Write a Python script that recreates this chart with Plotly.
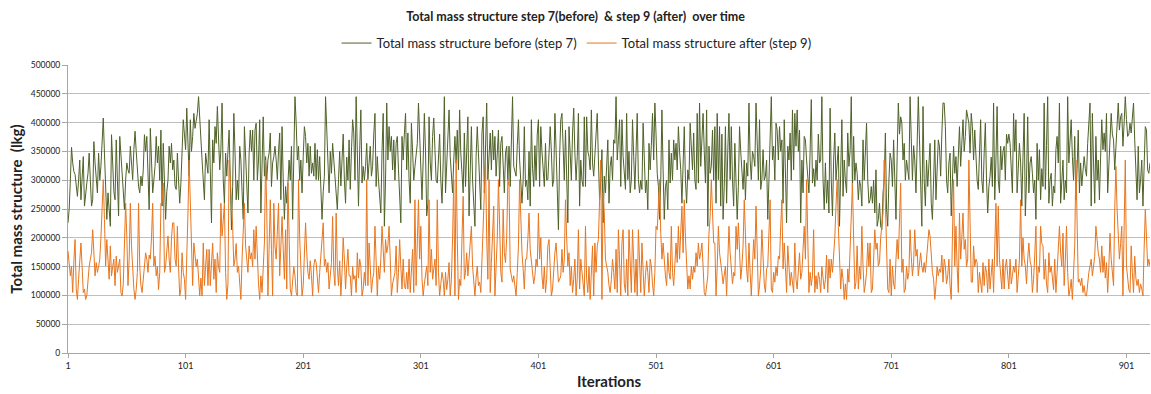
import plotly.graph_objects as go

# Total mass structure before (step 7), in thousands of kg, one value per iteration
before_k = [
    226,250,300,357,330,315,310,290,272,300, 335,266,300,341,255,280,295,312,347,300,
    255,266,367,330,307,278,347,300,324,370, 408,347,290,232,278,250,220,379,307,280,
    266,370,300,238,376,341,300,284,249,300, 330,318,312,359,330,301,353,385,350,307,
    289,278,307,290,318,379,350,376,300,249, 390,318,278,300,324,376,330,359,300,387,
    255,364,300,232,280,300,359,330,364,318, 335,290,284,347,300,260,295,350,405,380,
    353,425,380,307,405,350,376,416,390,401, 416,445,400,376,335,300,266,347,330,312,
    405,300,226,370,330,393,364,428,380,318, 353,434,300,260,347,307,350,387,300,214,
    289,416,350,266,300,266,359,335,280,232, 393,335,280,243,347,387,350,387,300,387,
    399,300,335,405,243,330,410,307,341,300, 335,347,382,289,330,341,359,335,301,350,
    382,266,393,300,232,289,260,295,335,300, 359,232,370,445,400,335,359,300,335,278,
    341,393,376,330,364,307,359,312,330,307, 364,301,353,300,341,266,232,280,307,445,
    393,318,278,350,312,364,335,307,280,249, 301,350,290,330,380,300,260,340,300,370,
    284,350,405,382,300,445,318,255,350,422, 295,324,300,324,364,301,330,359,307,324,
    380,416,289,341,300,266,243,350,416,220, 300,434,335,393,350,376,318,370,300,364,
    376,318,260,226,376,335,380,416,318,382, 300,260,399,335,300,324,353,364,434,380,
    335,266,335,416,350,238,260,410,330,300, 376,408,353,300,295,335,380,300,260,330,
    445,278,330,364,422,341,300,278,335,376, 330,387,318,422,347,300,278,382,289,350,
    410,238,312,393,300,243,220,341,393,347, 300,249,382,410,278,350,434,301,335,382,
    318,387,335,376,307,350,387,289,364,376, 330,278,347,359,300,359,289,370,445,324,
    312,307,360,405,335,284,260,300,393,289, 300,266,350,255,405,320,289,360,300,380,
    405,289,393,350,324,289,364,300,301,341, 393,350,289,301,416,353,300,214,341,405,
    416,353,300,387,289,226,393,335,300,382, 425,347,300,341,416,255,335,300,289,410,
    289,410,350,341,318,422,330,307,350,387, 416,335,266,300,353,226,307,278,330,370,
    260,324,341,300,370,364,445,335,370,405, 289,405,341,300,284,416,301,350,278,300,
    405,341,284,350,416,301,278,300,284,399, 312,278,300,249,364,318,360,416,335,434,
    380,312,289,232,300,422,318,232,289,300, 249,370,295,347,300,370,335,364,318,393,
    350,318,260,312,393,300,260,318,301,399, 341,318,382,300,284,416,295,434,324,359,
    416,350,295,422,220,359,312,324,387,300, 393,260,416,301,393,255,380,232,289,393,
    260,350,416,301,393,300,255,364,300,232, 289,393,350,307,284,335,266,330,307,434,
    335,301,350,341,324,434,347,300,405,284, 301,353,300,307,335,232,300,364,445,335,
    359,300,399,387,335,393,350,370,260,405, 300,226,359,335,382,300,422,318,416,359,
    422,350,387,226,335,278,376,370,335,307, 278,350,440,295,320,289,335,300,380,330,
    335,445,300,249,330,260,300,243,425,300, 238,335,382,300,335,359,220,300,405,272,
    335,300,278,382,324,350,445,284,376,300, 330,312,266,300,289,255,370,300,370,399,
    300,260,266,289,260,300,243,318,220,232, 260,220,214,278,300,382,249,220,300,347,
    335,289,370,300,232,341,434,380,410,399, 335,364,300,335,312,301,445,350,300,360,
    335,278,350,445,370,300,220,428,300,255, 335,289,330,364,260,232,300,370,266,340,
    370,359,307,380,434,434,393,300,278,330, 347,238,300,359,312,341,289,350,393,324,
    370,405,350,376,422,405,399,347,416,393, 335,387,335,300,284,335,405,300,278,347,
    399,300,243,289,307,340,289,434,266,335, 428,300,278,359,318,350,359,300,380,364,
    380,364,330,278,416,350,405,278,320,364, 330,255,340,416,238,300,410,278,330,341,
    312,278,300,232,364,300,353,266,320,289, 434,284,360,445,260,300,312,255,290,278,
    353,376,330,434,260,300,335,266,300,278, 445,330,360,405,341,300,376,266,320,387,
    278,330,290,312,341,320,307,364,400,434, 255,416,330,260,376,300,335,266,340,405,
    353,382,350,416,278,330,387,416,380,370, 318,364,400,434,387,410,416,359,400,445,
    405,376,380,399,382,410,434,370,300,266, 359,278,300,335,255,320,393,387,318,312,
    330,
]

# Total mass structure after (step 9), in thousands of kg, one value per iteration
after_k = [
    177,150,134,151,105,160,197,111,93,128, 163,191,150,105,111,93,100,128,150,163,
    174,214,180,134,157,140,150,163,200,250, 301,232,151,197,160,128,186,134,150,163,
    117,168,140,151,163,105,99,120,180,260, 203,117,163,260,186,140,111,93,110,140,
    260,151,117,105,130,151,174,163,140,170, 163,200,260,151,168,134,150,110,140,260,
    260,295,140,151,180,203,163,140,200,226, 226,163,151,220,150,99,111,174,140,128,
    93,151,243,335,249,180,117,191,163,150, 163,117,99,130,99,191,117,150,180,117,
    180,117,150,191,128,163,105,174,150,140, 260,203,230,260,140,93,120,335,300,260,
    220,151,163,190,140,151,120,93,163,200, 260,186,163,140,186,163,174,150,214,163,
    220,163,120,93,134,105,150,191,335,250, 99,163,266,180,99,260,186,163,200,260,
    134,174,237,180,128,214,111,295,200,111, 99,128,150,134,105,99,301,200,128,99,
    117,163,226,174,140,128,160,134,99,151, 163,157,134,105,140,174,203,226,151,163,
    140,157,111,130,157,237,140,117,243,150, 117,160,99,140,200,163,111,150,180,134,
    134,99,150,128,134,105,174,130,163,151, 99,111,140,117,301,117,191,150,105,128,
    140,220,160,99,151,128,163,220,180,140, 197,174,186,220,163,99,120,134,140,186,
    105,140,197,150,111,163,117,111,140,111, 163,105,140,180,105,266,117,200,266,163,
    220,128,99,120,140,151,117,266,140,180, 128,150,163,117,266,140,99,120,140,128,
    99,140,110,128,157,99,128,200,301,99, 335,200,93,128,117,200,272,128,140,174,
    134,163,190,220,151,117,99,130,151,117, 123,105,163,200,249,335,200,128,301,105,
    157,200,255,99,151,200,301,186,140,123, 249,174,157,200,301,289,146,134,123,134,
    117,99,140,186,301,220,174,146,111,163, 163,197,243,180,163,140,120,134,163,150,
    243,163,200,134,111,150,105,128,186,197, 150,99,111,151,174,191,150,123,128,134,
    180,140,163,266,200,151,174,117,150,105, 128,163,99,130,214,111,163,140,120,99,
    220,128,105,150,93,140,186,99,191,140, 186,197,250,335,93,278,243,163,151,140,
    117,105,128,163,140,111,180,105,214,150, 99,191,214,120,105,163,99,214,140,105,
    214,150,105,163,99,214,150,105,191,140, 99,134,160,140,105,163,151,120,99,140,
    220,214,250,301,208,163,191,157,134,117, 174,140,128,220,140,117,150,191,157,220,
    163,200,255,174,266,200,163,111,134,111, 151,128,151,140,174,151,191,163,174,191,
    151,105,99,120,134,208,237,301,250,191, 191,99,150,220,174,151,140,120,134,151,
    99,150,220,174,151,120,140,134,220,180, 226,163,128,150,186,266,200,146,123,191,
    140,99,150,197,163,255,180,99,117,146, 214,151,120,105,146,151,200,266,111,105,
    140,123,150,134,168,163,220,266,146,191, 150,105,186,151,117,140,120,105,191,128,
    111,157,174,128,140,180,220,163,301,200, 105,140,117,134,214,105,134,111,140,128,
    105,150,134,111,128,170,105,163,130,163, 140,168,200,255,301,220,150,111,146,128,
    93,120,93,146,123,180,237,295,200,111, 123,186,111,150,128,220,151,105,120,140,
    191,150,191,105,111,163,214,180,191,151, 157,200,220,243,335,255,150,111,105,163,
    99,151,120,111,163,197,163,220,295,140, 163,105,111,151,128,140,214,168,134,157,
    214,168,180,134,157,174,150,140,157,140, 163,200,214,203,157,140,128,93,117,150,
    134,146,140,170,123,163,151,120,134,163, 117,93,200,301,151,220,150,105,243,163,
    200,243,180,197,150,163,335,200,123,123, 186,150,163,157,105,140,120,105,157,117,
    151,140,105,163,111,140,163,105,197,260, 151,255,163,140,111,163,111,150,163,134,
    111,163,120,134,151,140,163,105,130,163, 266,151,200,163,151,120,163,191,160,151,
    105,128,170,220,105,150,140,220,190,186, 128,163,120,105,174,140,151,134,110,163,
    105,140,180,220,174,150,208,117,160,220, 140,99,110,128,93,140,186,335,240,123,
    128,117,130,105,117,100,99,128,140,151, 163,134,150,168,220,190,174,163,140,186,
    140,168,130,157,105,150,208,163,140,117, 249,324,250,186,163,190,220,99,200,335,
    151,128,110,105,186,140,105,168,130,117, 128,105,120,111,99,180,249,203,151,163,
    150,
]

tick_iterations = [1, 101, 201, 301, 401, 501, 601, 701, 801, 901]
y_ticks = [0, 50000, 100000, 150000, 200000, 250000, 300000, 350000, 400000, 450000, 500000]

before = [v * 1000 for v in before_k]
after = [v * 1000 for v in after_k]
x_before = list(range(1, len(before) + 1))
x_after = list(range(1, len(after) + 1))
n_last = max(len(before), len(after))

FONT = "Lato, Liberation Sans, sans-serif"
GREEN = "#4F6228"
ORANGE = "#E8761E"
TXT = "#222222"

fig = go.Figure()
fig.add_trace(go.Scatter(
    x=x_before, y=before, mode="lines", name="Total mass structure before (step 7)",
    line=dict(color=GREEN, width=1)))
fig.add_trace(go.Scatter(
    x=x_after, y=after, mode="lines", name="Total mass structure after (step 9)",
    line=dict(color=ORANGE, width=1)))

fig.update_layout(
    width=1151, height=394,
    margin=dict(l=68, r=1, t=65, b=41),
    paper_bgcolor="white", plot_bgcolor="white",
    font=dict(family=FONT, color=TXT),
    title=dict(
        text="<b>Total mass structure step 7(before)  &amp; step 9 (after)  over time</b>",
        x=0.5, xanchor="center", xref="container",
        y=1 - 17 / 394, yanchor="middle", yref="container",
        font=dict(family=FONT, size=12.5, color=TXT)),
    legend=dict(
        orientation="h", x=0.47, xanchor="center", y=1.076, yanchor="middle",
        font=dict(family=FONT, size=13, color=TXT),
        bgcolor="rgba(0,0,0,0)", itemwidth=30, tracegroupgap=0),
    showlegend=True,
)

fig.update_xaxes(
    range=[1, n_last], tickmode="array", tickvals=tick_iterations,
    ticktext=[str(t) for t in tick_iterations],
    showgrid=False, zeroline=False,
    showline=True, linecolor="#A6A6A6", linewidth=1,
    ticks="outside", ticklen=4, tickcolor="#A6A6A6",
    tickfont=dict(family=FONT, size=9, color=TXT),
    title=dict(text="<b>Iterations</b>", font=dict(family=FONT, size=15, color=TXT), standoff=6),
)
fig.update_yaxes(
    range=[0, 500000], tickmode="array", tickvals=y_ticks,
    ticktext=[str(t) for t in y_ticks],
    showgrid=True, gridcolor="#BFBFBF", gridwidth=1,
    zeroline=False,
    showline=True, linecolor="#A6A6A6", linewidth=1,
    ticks="outside", ticklen=5, tickcolor="#A6A6A6",
    tickfont=dict(family=FONT, size=8.5, color=TXT),
    title=dict(text="<b>Total mass structure  (lkg)</b>", font=dict(family=FONT, size=15, color=TXT), standoff=4),
)

fig.write_html("out.html")
